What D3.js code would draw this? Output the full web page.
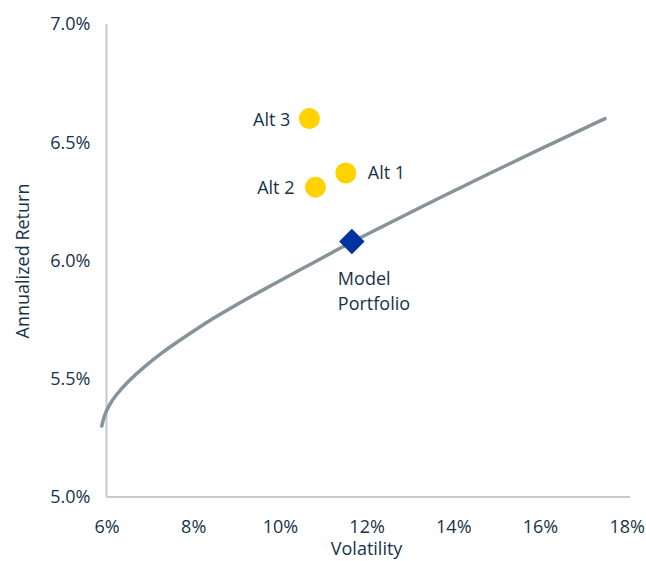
<!DOCTYPE html>
<html>
<head>
<meta charset="utf-8">
<script src="https://cdn.jsdelivr.net/npm/d3@7"></script>
<style>
  html, body { margin: 0; padding: 0; background: #fff; }
  svg text { font-family: "Open Sans", Lato, sans-serif; fill: #17324a; }
</style>
</head>
<body>
<svg id="chart" width="646" height="561"></svg>
<script>
// Efficient frontier: volatility (%) vs annualized return (%)
const frontierVol = [5.89, 5.95, 6.05, 6.2, 6.5, 6.89, 7.27, 7.66, 8.04, 8.46, 8.93, 9.7, 10.46, 11.39, 11.66, 13.16, 14.85, 16.16, 17.5];
const frontierRet = [5.30, 5.345, 5.385, 5.428, 5.49, 5.554, 5.609, 5.659, 5.706, 5.755, 5.806, 5.885, 5.960, 6.052, 6.078, 6.218, 6.370, 6.485, 6.60];

// Alternative portfolios
const altNames = ["Alt 1", "Alt 2", "Alt 3"];
const altVol = [11.52, 10.82, 10.68];
const altRet = [6.37, 6.31, 6.60];

// Model portfolio
const modelName = ["Model", "Portfolio"];
const modelVol = 11.66;
const modelRet = 6.08;

// Axis ticks
const xTicks = [6, 8, 10, 12, 14, 16, 18];
const yTicks = [5.0, 5.5, 6.0, 6.5, 7.0];

const svg = d3.select("#chart");
const x = d3.scaleLinear().domain([6, 18]).range([106.5, 626.7]);
const y = d3.scaleLinear().domain([5, 7]).range([497, 24]);
const FONT = 18;

// Axes (lines only, no tick marks)
const xAxis = svg.append("g").attr("transform", `translate(0,${y(5)})`)
  .call(d3.axisBottom(x).tickValues(xTicks).tickSize(0).tickPadding(23).tickFormat(d => d + "%"));
xAxis.select(".domain").attr("d", `M${x(6)},0H630`).attr("stroke", "#c8c8c8").attr("stroke-width", 2);
xAxis.selectAll("text").attr("font-size", FONT).attr("fill", "#17324a").style("font-family", "'Open Sans', sans-serif");

const yAxis = svg.append("g").attr("transform", `translate(${x(6)},0)`)
  .call(d3.axisLeft(y).tickValues(yTicks).tickSize(0).tickPadding(16).tickFormat(d => d.toFixed(1) + "%"));
yAxis.select(".domain").attr("d", `M0,${y(7)}V${y(5)}`).attr("stroke", "#c8c8c8").attr("stroke-width", 2);
yAxis.selectAll("text").attr("font-size", FONT).attr("fill", "#17324a").style("font-family", "'Open Sans', sans-serif");

// Axis titles
svg.append("text").attr("x", x(12)).attr("y", 555).attr("text-anchor", "middle")
  .attr("font-size", FONT).text("Volatility");
svg.append("text").attr("transform", `translate(29,${261}) rotate(-90)`).attr("text-anchor", "middle")
  .attr("font-size", FONT).text("Annualized Return");

// Frontier curve
const line = d3.line().x(d => x(d[0])).y(d => y(d[1])).curve(d3.curveBasis);
svg.append("path")
  .datum(frontierVol.map((v, i) => [v, frontierRet[i]]))
  .attr("d", line).attr("fill", "none").attr("stroke", "#869399")
  .attr("stroke-width", 3.5).attr("stroke-linecap", "round");

// Alternative portfolios
svg.selectAll("circle.alt").data(altNames).join("circle").attr("class", "alt")
  .attr("cx", (d, i) => x(altVol[i])).attr("cy", (d, i) => y(altRet[i]))
  .attr("r", 10.5).attr("fill", "#ffd200");

// Labels for alternatives
const altLabelDx = [22, -21, -19];
const altLabelDy = [6, 7, 7];
svg.selectAll("text.alt").data(altNames).join("text").attr("class", "alt")
  .attr("x", (d, i) => x(altVol[i]) + altLabelDx[i])
  .attr("y", (d, i) => y(altRet[i]) + altLabelDy[i])
  .attr("text-anchor", (d, i) => altLabelDx[i] > 0 ? "start" : "end")
  .attr("font-size", FONT).text(d => d);

// Model portfolio diamond
svg.append("path")
  .attr("transform", `translate(${x(modelVol)},${y(modelRet)}) rotate(45)`)
  .attr("d", "M-9,-9H9V9H-9Z").attr("fill", "#0033a1");

svg.append("text").attr("x", x(modelVol) - 14).attr("y", y(modelRet) + 43)
  .attr("font-size", FONT)
  .selectAll("tspan").data(modelName).join("tspan")
  .attr("x", x(modelVol) - 14).attr("dy", (d, i) => i === 0 ? 0 : 25).text(d => d);
</script>
</body>
</html>
